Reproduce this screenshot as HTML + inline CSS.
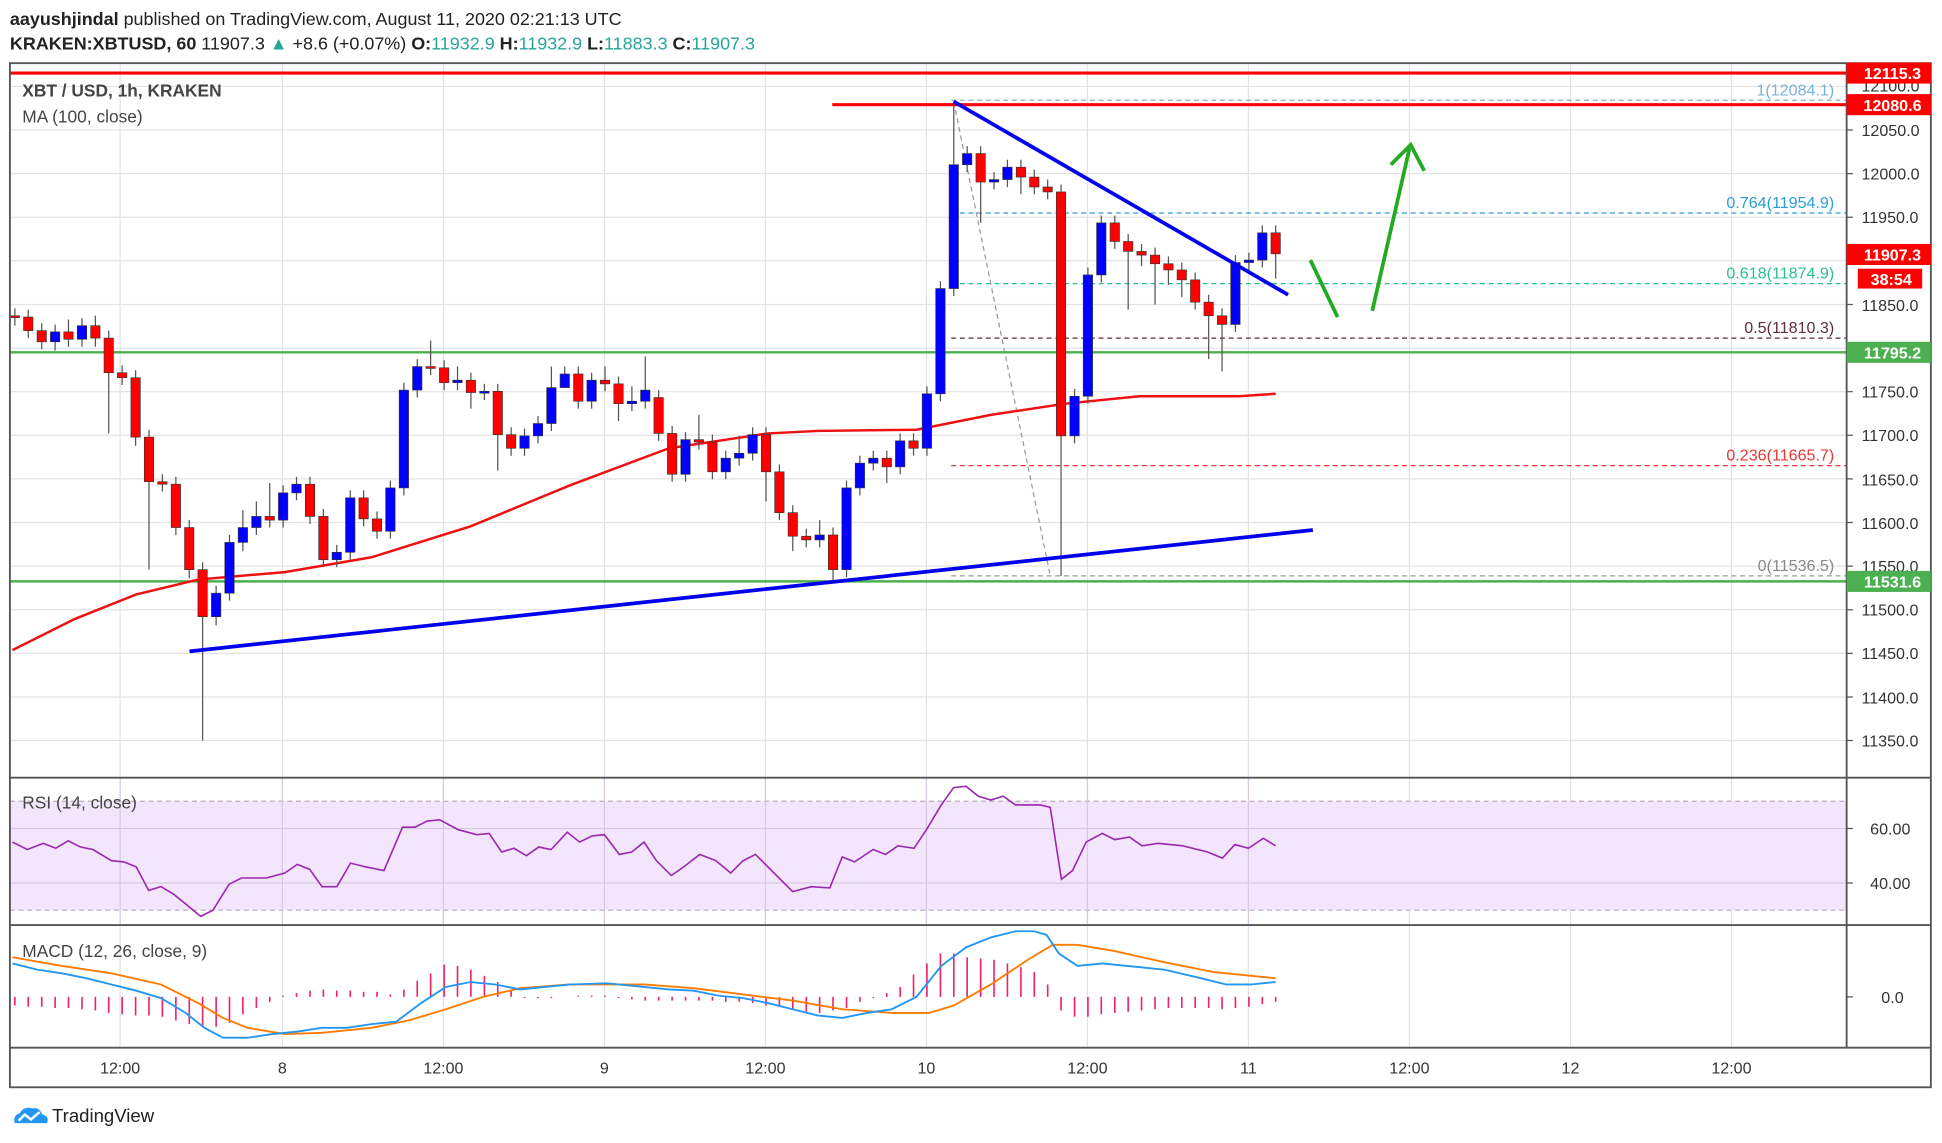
<!DOCTYPE html>
<html><head><meta charset="utf-8"><style>
html,body{margin:0;padding:0;background:#fff;width:1942px;height:1143px;overflow:hidden}
svg{display:block;font-family:"Liberation Sans",sans-serif}
.b{fill:#0000ff;stroke:#333;stroke-width:.5}
.r{fill:#ff0000;stroke:#333;stroke-width:.5}
</style></head><body>
<svg width="1942" height="1143" viewBox="0 0 1568 923" preserveAspectRatio="none" xmlns="http://www.w3.org/2000/svg">
<rect width="1568" height="923" fill="#fff"/>
<g stroke="#e3e3e3" stroke-width="1">
<path d="M8 69.8H1491M8 105H1491M8 140.2H1491M8 175.4H1491M8 210.6H1491M8 245.9H1491M8 281.1H1491M8 316.3H1491M8 351.5H1491M8 386.7H1491M8 421.9H1491M8 457.2H1491M8 492.4H1491M8 527.6H1491M8 562.8H1491M8 598H1491M8 669H1491M8 713H1491"/>
<path d="M97 51V846M228 51V846M358 51V846M488 51V846M618 51V846M748 51V846M878 51V846M1008 51V846M1138 51V846M1268 51V846M1398 51V846"/>
</g>
<rect x="8" y="647" width="1483" height="88" fill="#f3e6fc"/>
<line x1="8" y1="647" x2="1491" y2="647" stroke="#b8a8c0" stroke-dasharray="4,3"/>
<line x1="8" y1="735" x2="1491" y2="735" stroke="#b8a8c0" stroke-dasharray="4,3"/>
<path d="M97 628V747M228 628V747M358 628V747M488 628V747M618 628V747M748 628V747M878 628V747M1008 628V747M8 669H1491M8 713H1491" stroke="#d8c8e0"/>

<!-- fib -->
<g stroke-dasharray="4,3" stroke-width="1">
<line x1="768" x2="1491" y1="81" y2="81" stroke="#9ab"/>
<line x1="768" x2="1491" y1="172" y2="172" stroke="#2a9fd6"/>
<line x1="768" x2="1491" y1="229" y2="229" stroke="#2dc08d"/>
<line x1="768" x2="1491" y1="273" y2="273" stroke="#5d2f3a"/>
<line x1="768" x2="1491" y1="376" y2="376" stroke="#e53935"/>
<line x1="768" x2="1491" y1="465" y2="465" stroke="#999"/>
<line x1="770" y1="82" x2="848" y2="465" stroke="#999"/>
</g>
<g font-size="13" text-anchor="end">
<text x="1481" y="77" fill="#7ab3d8">1(12084.1)</text>
<text x="1481" y="168" fill="#2a9fd6">0.764(11954.9)</text>
<text x="1481" y="225" fill="#2dc08d">0.618(11874.9)</text>
<text x="1481" y="269" fill="#5d2f3a">0.5(11810.3)</text>
<text x="1481" y="372" fill="#e53935">0.236(11665.7)</text>
<text x="1481" y="461" fill="#888">0(11536.5)</text>
</g>
<line x1="8" x2="1491" y1="284.5" y2="284.5" stroke="#4caf50" stroke-width="2"/>
<line x1="8" x2="1491" y1="469.5" y2="469.5" stroke="#4caf50" stroke-width="2"/>
<line x1="8" x2="1491" y1="59" y2="59" stroke="#ff0000" stroke-width="2.5"/>
<line x1="672" x2="1491" y1="84.5" y2="84.5" stroke="#ff0000" stroke-width="2.5"/>
<polyline points="10,525 60,500 110,480 160,468 230,462 300,450 380,425 460,392 540,362 620,350 660,348 740,347 800,335 860,326 920,320 1000,320 1030,318" fill="none" stroke="#ee1111" stroke-width="2"/>

<!-- wicks -->
<path stroke="#555" stroke-width="1" fill="none" d="M12 249V263M22.8 250V273M33.7 261V282M44.5 262V283M55.3 258V280M66.2 257V280M77 255V280M87.8 267V350M98.6 295V311M109.5 299V360M120.3 347V460M131.1 383V397M142 385V432M152.8 420V467M163.6 454V598M174.5 473V505M185.3 432V485M196.1 412V445M207 405V432M217.8 390V426M228.6 392V426M239.4 385V404M250.3 385V423M261.1 411V458M271.9 440V458M282.8 396V452M293.6 396V425M304.4 413V435M315.2 388V435M326.1 309V400M336.9 290V321M347.7 275V303M358.6 291V315M369.4 296V315M380.2 301V330M391.1 310V323M401.9 310V380M412.7 345V368M423.5 346V368M434.4 336V358M445.2 296V348M456 296V308M466.9 296V330M477.7 301V330M488.5 296V316M499.4 304V340M510.2 312V332M521 288V330M531.8 315V356M542.7 344V389M553.5 349V389M564.3 335V363M575.2 351V387M586 364V387M596.8 352V376M607.7 345V372M618.5 345V405M629.3 375V420M640.1 408V445M651 427V442M661.8 420V442M672.6 426V470M683.5 388V466M694.3 368V400M705.1 364V380M716 364V390M726.8 350V383M737.6 350V368M748.4 312V368M759.3 227V324M770.1 82V239M780.9 118V139M791.8 118V180M802.6 139V153M813.4 129V151M824.3 129V157M835.1 137V157M845.9 145V161M856.7 149V465M867.6 314V358M878.4 216V326M889.2 174V228M900.1 174V201M910.9 189V250M921.7 197V215M932.6 200V246M943.4 207V230M954.2 212V240M965 220V250M975.9 238V290M986.7 249V300M997.5 206V268M1008.4 204V220M1019.2 182V216M1030 182V225"/>
<!-- bodies -->
<g>
<rect class="r" x="8.2" y="255" width="7.6" height="1.5"/>
<rect class="r" x="19" y="256" width="7.6" height="11"/>
<rect class="r" x="29.9" y="267" width="7.6" height="9"/>
<rect class="b" x="40.7" y="268" width="7.6" height="8"/>
<rect class="r" x="51.5" y="268" width="7.6" height="6"/>
<rect class="b" x="62.4" y="263" width="7.6" height="11"/>
<rect class="r" x="73.2" y="263" width="7.6" height="10"/>
<rect class="r" x="84" y="273" width="7.6" height="28"/>
<rect class="r" x="94.8" y="301" width="7.6" height="4"/>
<rect class="r" x="105.7" y="305" width="7.6" height="48"/>
<rect class="r" x="116.5" y="353" width="7.6" height="36"/>
<rect class="r" x="127.3" y="389" width="7.6" height="2"/>
<rect class="r" x="138.2" y="391" width="7.6" height="35"/>
<rect class="r" x="149" y="426" width="7.6" height="34"/>
<rect class="r" x="159.8" y="460" width="7.6" height="38"/>
<rect class="b" x="170.7" y="479" width="7.6" height="19"/>
<rect class="b" x="181.5" y="438" width="7.6" height="41"/>
<rect class="b" x="192.3" y="426" width="7.6" height="12"/>
<rect class="b" x="203.2" y="417" width="7.6" height="9"/>
<rect class="r" x="214" y="417" width="7.6" height="3"/>
<rect class="b" x="224.8" y="398" width="7.6" height="22"/>
<rect class="b" x="235.6" y="391" width="7.6" height="7"/>
<rect class="r" x="246.5" y="391" width="7.6" height="26"/>
<rect class="r" x="257.3" y="417" width="7.6" height="35"/>
<rect class="b" x="268.1" y="446" width="7.6" height="6"/>
<rect class="b" x="279" y="402" width="7.6" height="44"/>
<rect class="r" x="289.8" y="402" width="7.6" height="17"/>
<rect class="r" x="300.6" y="419" width="7.6" height="10"/>
<rect class="b" x="311.4" y="394" width="7.6" height="35"/>
<rect class="b" x="322.3" y="315" width="7.6" height="79"/>
<rect class="b" x="333.1" y="296" width="7.6" height="19"/>
<rect class="r" x="343.9" y="296" width="7.6" height="1.5"/>
<rect class="r" x="354.8" y="297" width="7.6" height="12"/>
<rect class="b" x="365.6" y="307" width="7.6" height="2"/>
<rect class="r" x="376.4" y="307" width="7.6" height="10"/>
<rect class="b" x="387.3" y="316" width="7.6" height="1.5"/>
<rect class="r" x="398.1" y="316" width="7.6" height="35"/>
<rect class="r" x="408.9" y="351" width="7.6" height="11"/>
<rect class="b" x="419.7" y="352" width="7.6" height="10"/>
<rect class="b" x="430.6" y="342" width="7.6" height="10"/>
<rect class="b" x="441.4" y="313" width="7.6" height="29"/>
<rect class="b" x="452.2" y="302" width="7.6" height="11"/>
<rect class="r" x="463.1" y="302" width="7.6" height="22"/>
<rect class="b" x="473.9" y="307" width="7.6" height="17"/>
<rect class="r" x="484.7" y="307" width="7.6" height="3"/>
<rect class="r" x="495.6" y="310" width="7.6" height="16"/>
<rect class="b" x="506.4" y="324" width="7.6" height="2"/>
<rect class="b" x="517.2" y="315" width="7.6" height="9"/>
<rect class="r" x="528" y="321" width="7.6" height="29"/>
<rect class="r" x="538.9" y="350" width="7.6" height="33"/>
<rect class="b" x="549.7" y="355" width="7.6" height="28"/>
<rect class="r" x="560.5" y="355" width="7.6" height="2"/>
<rect class="r" x="571.4" y="357" width="7.6" height="24"/>
<rect class="b" x="582.2" y="370" width="7.6" height="11"/>
<rect class="b" x="593" y="366" width="7.6" height="4"/>
<rect class="b" x="603.9" y="351" width="7.6" height="15"/>
<rect class="r" x="614.7" y="351" width="7.6" height="30"/>
<rect class="r" x="625.5" y="381" width="7.6" height="33"/>
<rect class="r" x="636.3" y="414" width="7.6" height="19"/>
<rect class="r" x="647.2" y="433" width="7.6" height="3"/>
<rect class="b" x="658" y="432" width="7.6" height="4"/>
<rect class="r" x="668.8" y="432" width="7.6" height="28"/>
<rect class="b" x="679.7" y="394" width="7.6" height="66"/>
<rect class="b" x="690.5" y="374" width="7.6" height="20"/>
<rect class="b" x="701.3" y="370" width="7.6" height="4"/>
<rect class="r" x="712.2" y="370" width="7.6" height="7"/>
<rect class="b" x="723" y="356" width="7.6" height="21"/>
<rect class="r" x="733.8" y="356" width="7.6" height="6"/>
<rect class="b" x="744.6" y="318" width="7.6" height="44"/>
<rect class="b" x="755.5" y="233" width="7.6" height="85"/>
<rect class="b" x="766.3" y="133" width="7.6" height="100"/>
<rect class="b" x="777.1" y="124" width="7.6" height="9"/>
<rect class="r" x="788" y="124" width="7.6" height="23"/>
<rect class="b" x="798.8" y="145" width="7.6" height="2"/>
<rect class="b" x="809.6" y="135" width="7.6" height="10"/>
<rect class="r" x="820.5" y="135" width="7.6" height="8"/>
<rect class="r" x="831.3" y="143" width="7.6" height="8"/>
<rect class="r" x="842.1" y="151" width="7.6" height="4"/>
<rect class="r" x="852.9" y="155" width="7.6" height="197"/>
<rect class="b" x="863.8" y="320" width="7.6" height="32"/>
<rect class="b" x="874.6" y="222" width="7.6" height="98"/>
<rect class="b" x="885.4" y="180" width="7.6" height="42"/>
<rect class="r" x="896.3" y="180" width="7.6" height="15"/>
<rect class="r" x="907.1" y="195" width="7.6" height="8"/>
<rect class="r" x="917.9" y="203" width="7.6" height="3"/>
<rect class="r" x="928.8" y="206" width="7.6" height="7"/>
<rect class="r" x="939.6" y="213" width="7.6" height="5"/>
<rect class="r" x="950.4" y="218" width="7.6" height="8"/>
<rect class="r" x="961.2" y="226" width="7.6" height="18"/>
<rect class="r" x="972.1" y="244" width="7.6" height="11"/>
<rect class="r" x="982.9" y="255" width="7.6" height="7"/>
<rect class="b" x="993.7" y="212" width="7.6" height="50"/>
<rect class="b" x="1004.6" y="210" width="7.6" height="2"/>
<rect class="b" x="1015.4" y="188" width="7.6" height="22"/>
<rect class="r" x="1026.2" y="188" width="7.6" height="17"/>
</g>
<line x1="153" y1="526" x2="1060" y2="428" stroke="#0000ee" stroke-width="3"/>
<line x1="770" y1="82" x2="1040" y2="238" stroke="#0000ee" stroke-width="3"/>
<line x1="1058" y1="210" x2="1080" y2="256" stroke="#22aa22" stroke-width="3"/>
<line x1="1108" y1="251" x2="1138" y2="120" stroke="#22aa22" stroke-width="3"/>
<polyline points="1123,133 1139,117 1150,138" fill="none" stroke="#22aa22" stroke-width="3"/>

<!-- RSI -->
<polyline fill="none" stroke="#9c27b0" stroke-width="1.3" points="10,680 22,686 35,681 45,685 55,679 65,684 75,686 90,695 100,696 110,700 120,719 130,716 140,722 150,730 162,740 172,735 185,714 195,709 215,709 230,705 240,698 250,702 260,716 272,716 283,697 295,700 310,703 325,668 335,668 345,663 355,662 370,670 385,674 395,673 405,688 415,685 425,691 435,684 445,686 458,672 468,680 478,675 488,674 500,690 510,688 520,680 530,695 542,707 552,700 565,690 578,695 590,705 600,695 610,690 625,705 640,720 655,716 670,717 680,692 690,696 705,686 715,690 725,683 738,685 748,670 760,650 770,636 780,635 790,643 800,646 810,643 820,650 840,650 848,652 857,710 866,703 877,680 890,673 900,678 912,676 922,683 935,681 955,683 975,688 987,693 997,682 1008,685 1020,677 1030,683"/>

<!-- MACD -->
<path stroke="#f0206a" stroke-width="1.3" fill="none" d="M12 805v7M22.8 805v8M33.7 805v8M44.5 805v9M55.3 805v9M66.2 805v10M77 805v11M87.8 805v13M98.6 805v14M109.5 805v15M120.3 805v15M131.1 805v16M142 805v19M152.8 805v22M163.6 805v24M174.5 805v24M185.3 805v21M196.1 805v14M207 805v9M217.8 805v4M228.6 805v-1M239.4 805v-3M250.3 805v-5M261.1 805v-6M271.9 805v-5M282.8 805v-5M293.6 805v-4M304.4 805v-4M315.2 805v-2M326.1 805v-6M336.9 805v-13M347.7 805v-19M358.6 805v-26M369.4 805v-25M380.2 805v-22M391.1 805v-17M401.9 805v-12M412.7 805v-6M423.5 805v1M434.4 805v1M445.2 805v1M466.9 805v-1M477.7 805v-1M488.5 805v-1M499.4 805v1M510.2 805v2M521 805v3M531.8 805v3M542.7 805v3M553.5 805v3M564.3 805v3M575.2 805v3M586 805v4M596.8 805v4M607.7 805v5M618.5 805v7M629.3 805v8M640.1 805v10M651 805v12M661.8 805v13M672.6 805v11M683.5 805v9M694.3 805v4M705.1 805v1M716 805v-3M726.8 805v-8M737.6 805v-18M748.4 805v-27M759.3 805v-35M770.1 805v-35M780.9 805v-32M791.8 805v-31M802.6 805v-30M813.4 805v-27M824.3 805v-24M835.1 805v-20M845.9 805v-10M856.7 805v11M867.6 805v16M878.4 805v16M889.2 805v14M900.1 805v13M910.9 805v12M921.7 805v11M932.6 805v10M943.4 805v9M954.2 805v9M965 805v9M975.9 805v9M986.7 805v10M997.5 805v9M1008.4 805v8M1019.2 805v6M1030 805v4"/>
<polyline fill="none" stroke="#ff7b00" stroke-width="1.5" points="10,773 50,780 90,786 130,795 160,810 180,822 200,830 230,835 260,834 300,830 330,824 360,815 390,805 420,798 460,795 520,795 560,798 600,803 640,808 680,815 720,818 750,818 770,812 800,795 830,775 850,763 870,763 900,768 940,777 980,785 1030,790"/>
<polyline fill="none" stroke="#2196f3" stroke-width="1.5" points="10,778 30,783 50,786 70,790 90,795 110,800 130,806 150,818 165,830 180,838 200,838 220,835 240,833 260,830 280,830 300,827 320,825 340,810 360,797 380,793 400,795 420,799 440,797 460,795 490,794 520,797 540,799 560,800 580,804 600,806 620,810 640,815 660,820 680,822 700,818 720,815 740,805 760,780 780,765 800,757 820,752 835,752 845,755 855,770 870,780 890,778 910,780 940,783 970,790 990,795 1010,795 1030,793"/>

<!-- borders -->
<g stroke="#555" stroke-width="1.5" fill="none">
<rect x="8" y="51" width="1551" height="827"/>
<line x1="1491" y1="51" x2="1491" y2="846"/>
<line x1="8" y1="628" x2="1559" y2="628"/>
<line x1="8" y1="747" x2="1559" y2="747"/>
<line x1="8" y1="846" x2="1559" y2="846"/>
</g>
<!-- axis -->
<g stroke="#555"><path d="M1491 105h5M1491 140.2h5M1491 175.4h5M1491 245.9h5M1491 316.3h5M1491 351.5h5M1491 386.7h5M1491 421.9h5M1491 457.2h5M1491 492.4h5M1491 527.6h5M1491 562.8h5M1491 598h5M1491 669h5M1491 713h5M1491 805h5"/></g>
<g font-size="13" fill="#333">
<text x="1503" y="74">12100.0</text>
<text x="1503" y="110">12050.0</text>
<text x="1503" y="145">12000.0</text>
<text x="1503" y="180">11950.0</text>
<text x="1503" y="251">11850.0</text>
<text x="1503" y="321">11750.0</text>
<text x="1503" y="356">11700.0</text>
<text x="1503" y="392">11650.0</text>
<text x="1503" y="427">11600.0</text>
<text x="1503" y="462">11550.0</text>
<text x="1503" y="497">11500.0</text>
<text x="1503" y="532">11450.0</text>
<text x="1503" y="568">11400.0</text>
<text x="1503" y="603">11350.0</text>
<text x="1510" y="674">60.00</text>
<text x="1510" y="718">40.00</text>
<text x="1519" y="810">0.0</text>
</g>
<g font-size="13" fill="#333" text-anchor="middle">
<text x="97" y="867">12:00</text><text x="228" y="867">8</text><text x="358" y="867">12:00</text><text x="488" y="867">9</text><text x="618" y="867">12:00</text><text x="748" y="867">10</text><text x="878" y="867">12:00</text><text x="1008" y="867">11</text><text x="1138" y="867">12:00</text><text x="1268" y="867">12</text><text x="1398" y="867">12:00</text>
</g>
<g font-size="13" font-weight="bold" fill="#fff" text-anchor="middle">
<rect x="1491" y="50.5" width="68" height="17" fill="#ff0000"/><text x="1528" y="64">12115.3</text>
<rect x="1491" y="76" width="68" height="17" fill="#ff0000"/><text x="1528" y="89.5">12080.6</text>
<rect x="1491" y="197" width="68" height="17" fill="#ff0000"/><text x="1528" y="210.5">11907.3</text>
<rect x="1500" y="217" width="52" height="16" fill="#ff0000"/><text x="1527" y="230">38:54</text>
<rect x="1491" y="276" width="68" height="17" fill="#4caf50"/><text x="1528" y="289.5">11795.2</text>
<rect x="1491" y="461" width="68" height="17" fill="#4caf50"/><text x="1528" y="474.5">11531.6</text>
</g>

<text x="8" y="20" font-size="14.5" fill="#222"><tspan font-weight="bold">aayushjindal</tspan> published on TradingView.com, August 11, 2020 02:21:13 UTC</text>
<text x="8" y="40" font-size="14.5" fill="#222"><tspan font-weight="bold">KRAKEN:XBTUSD, 60</tspan> 11907.3 <tspan fill="#26a69a">▲</tspan> +8.6 (+0.07%) <tspan font-weight="bold">O:</tspan><tspan fill="#26a69a">11932.9</tspan> <tspan font-weight="bold">H:</tspan><tspan fill="#26a69a">11932.9</tspan> <tspan font-weight="bold">L:</tspan><tspan fill="#26a69a">11883.3</tspan> <tspan font-weight="bold">C:</tspan><tspan fill="#26a69a">11907.3</tspan></text>
<text x="18" y="78" font-size="14" font-weight="bold" fill="#444">XBT / USD, 1h, KRAKEN</text>
<text x="18" y="99" font-size="14" fill="#444">MA (100, close)</text>
<text x="18" y="653" font-size="14" fill="#444">RSI (14, close)</text>
<text x="18" y="773" font-size="14" fill="#444">MACD (12, 26, close, 9)</text>
<g transform="translate(10,893)">
<path d="M2 14 Q0 8 6 6 Q9 0 16 2 Q22 1 24 7 Q30 8 28 14 Z" fill="#2196f3"/>
<path d="M5 12 L10 7 L15 11 L22 5" stroke="#fff" stroke-width="2" fill="none"/>
</g>
<text x="42" y="906" font-size="15" fill="#222">TradingView</text>
</svg>
</body></html>
